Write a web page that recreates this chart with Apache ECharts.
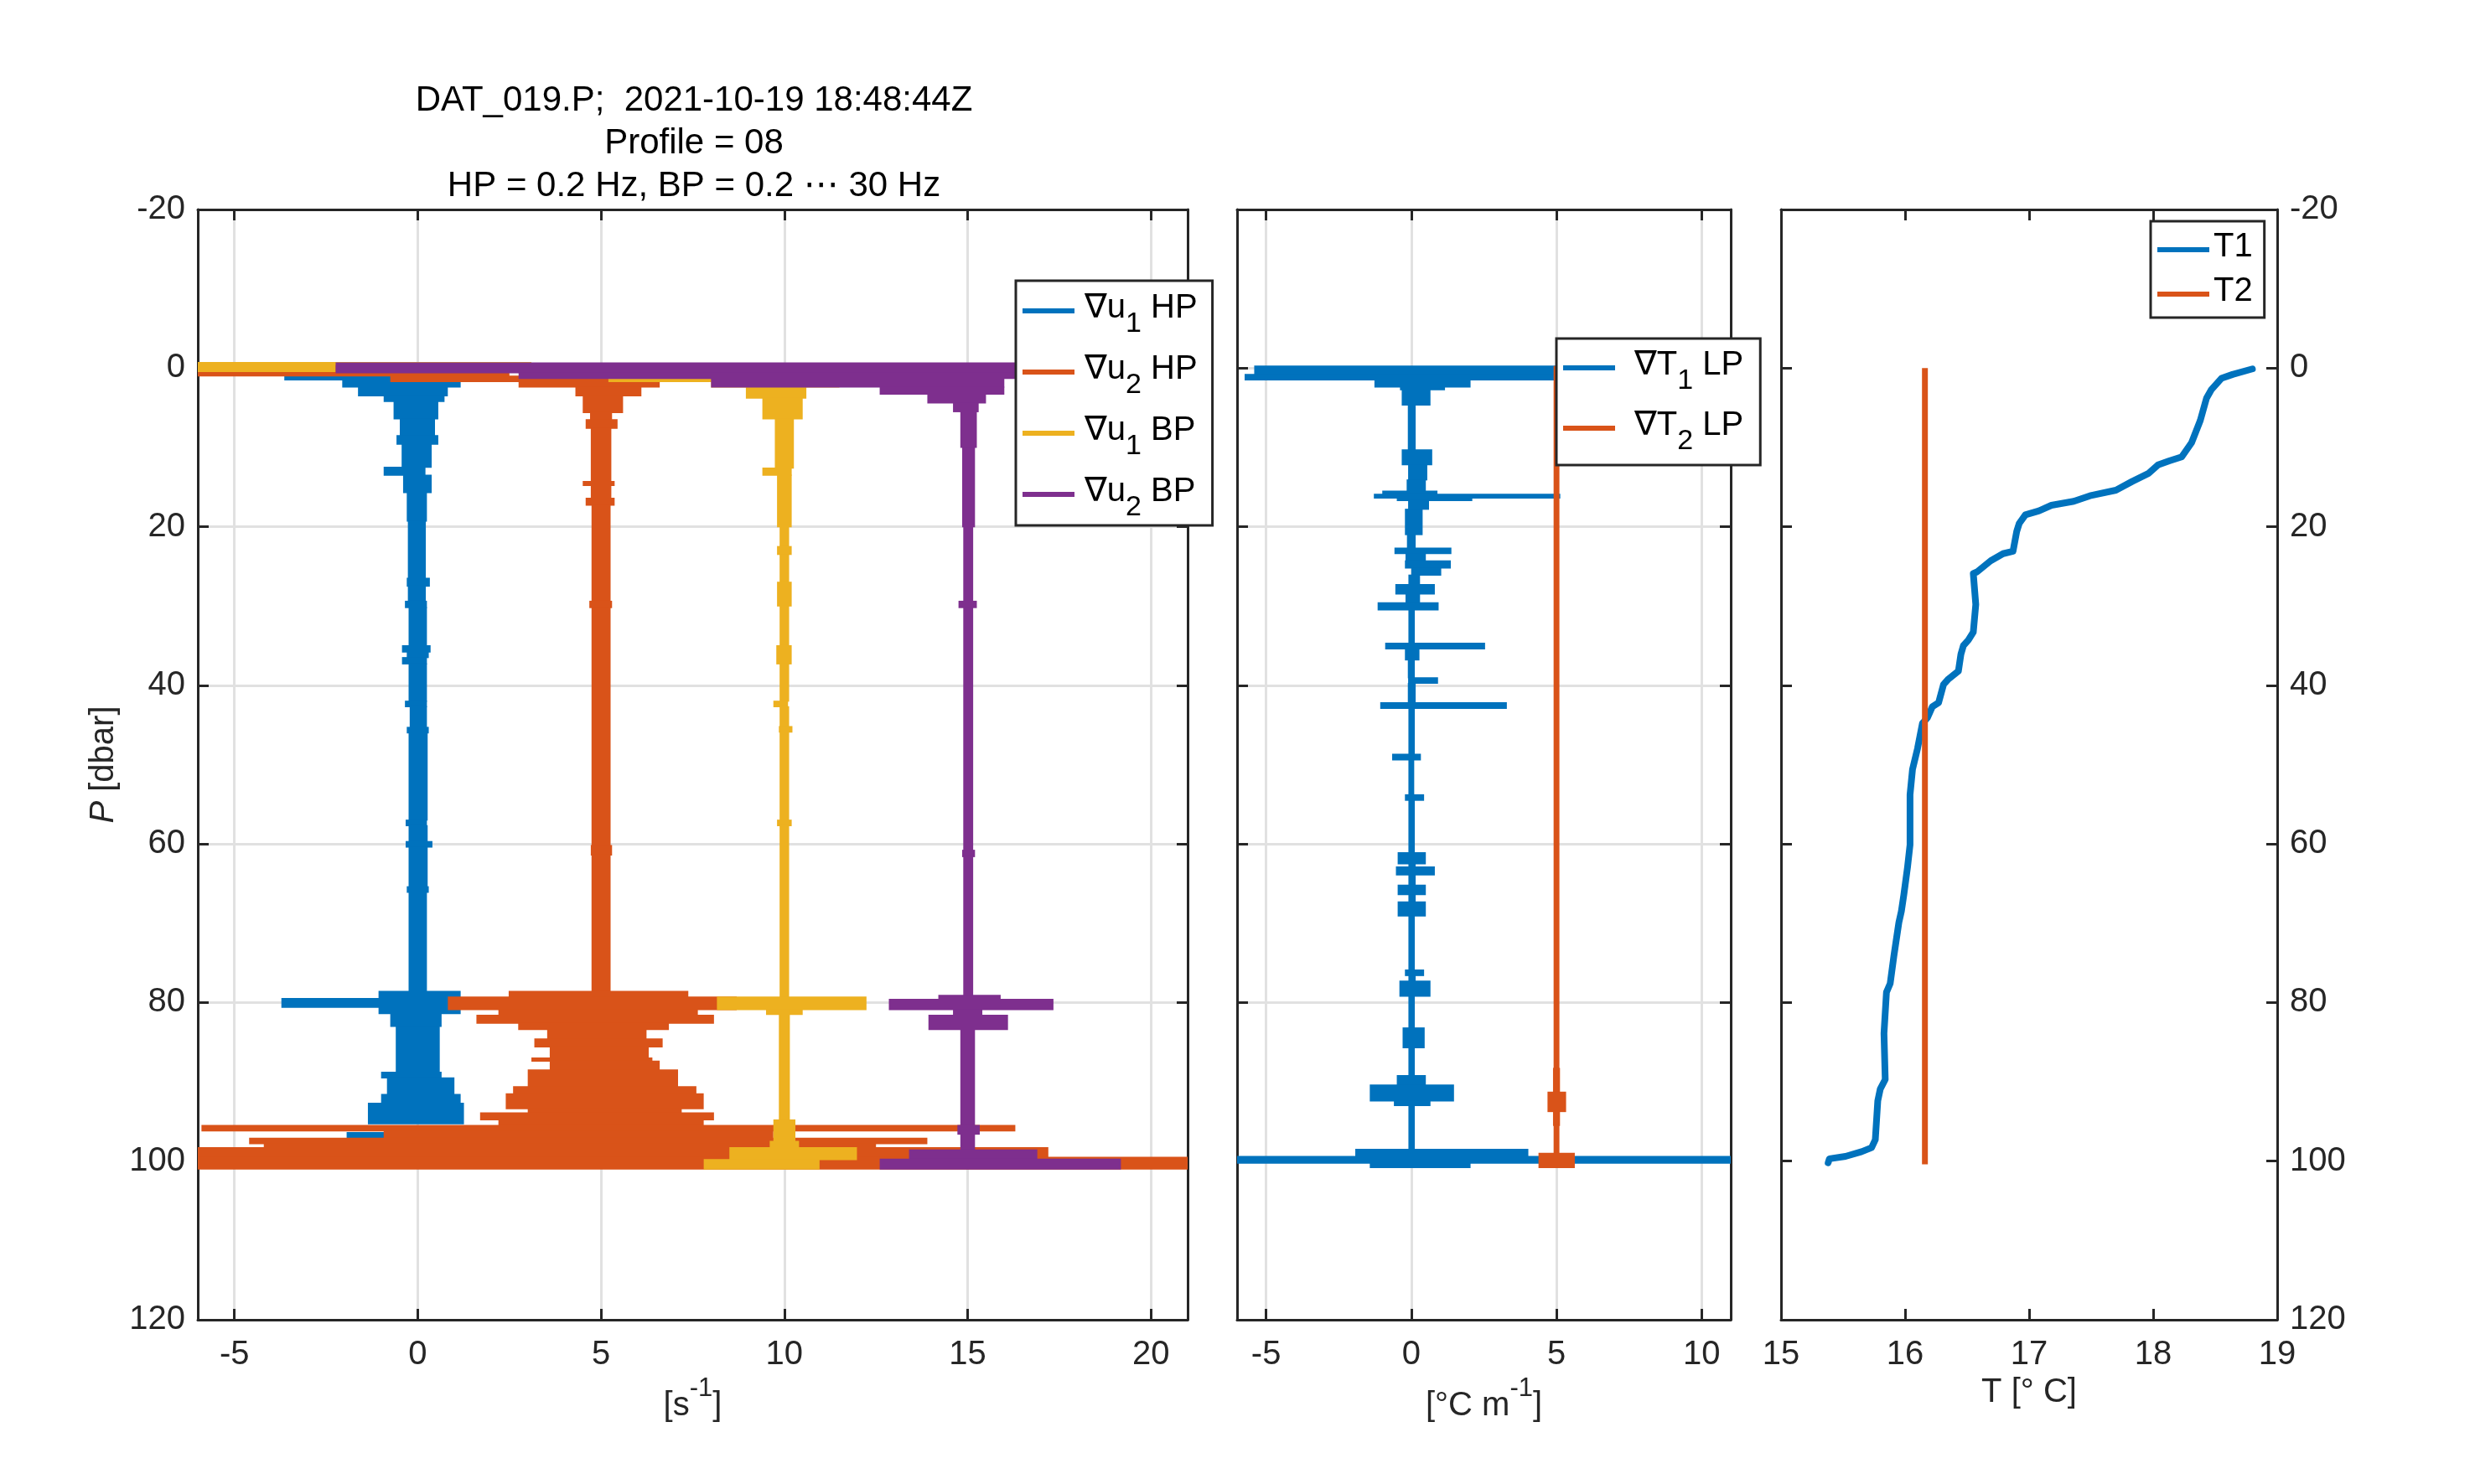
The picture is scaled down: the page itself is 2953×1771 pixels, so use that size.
<!DOCTYPE html>
<html>
<head>
<meta charset="utf-8">
<title>DAT_019.P profile 08</title>
<script src="https://cdn.jsdelivr.net/npm/echarts@6/dist/echarts.min.js"></script>
<style>
  html, body { margin: 0; padding: 0; background: #ffffff; }
  #chart { width: 2953px; height: 1771px; }
</style>
</head>
<body>
<div id="chart"></div>
<script>
// tick values
const pTicks = [-20, 0, 20, 40, 60, 80, 100, 120];
const shearTicks = [-5, 0, 5, 10, 15, 20];
const gradTTicks = [-5, 0, 5, 10];
const tempTicks = [15, 16, 17, 18, 19];

// shear profiles, one row per pressure band: [p top, p bottom, left, right]
const u1HP = [
  [1.1, 1.5, -3.64, 2.75], [1.5, 2.4, -2.06, 1.17], [2.4, 3.5, -1.63, 0.82],
  [3.5, 4.2, -0.93, 0.73], [4.2, 6.4, -0.66, 0.56], [6.4, 8.5, -0.49, 0.47],
  [8.5, 9.6, -0.58, 0.56], [9.6, 12.5, -0.44, 0.38], [12.5, 13.5, -0.93, 0.21],
  [13.5, 15.7, -0.4, 0.38], [15.7, 19.3, -0.3, 0.25], [19.3, 26.5, -0.27, 0.22],
  [26.5, 27.5, -0.3, 0.33], [27.5, 29.4, -0.27, 0.22], [29.4, 30.2, -0.35, 0.25],
  [30.2, 35, -0.25, 0.25], [35, 35.8, -0.43, 0.35], [35.8, 36.5, -0.3, 0.3],
  [36.5, 37.3, -0.43, 0.25], [37.3, 42, -0.25, 0.25], [42, 42.7, -0.35, 0.25],
  [42.7, 45.3, -0.22, 0.25], [45.3, 46, -0.3, 0.3], [46, 57, -0.25, 0.27],
  [57, 57.7, -0.33, 0.25], [57.7, 59.7, -0.25, 0.27], [59.7, 60.4, -0.33, 0.4],
  [60.4, 65.4, -0.25, 0.27], [65.4, 66.1, -0.3, 0.3], [66.1, 78.6, -0.25, 0.25],
  [78.6, 79.5, -1.07, 1.17], [79.5, 80.6, -3.72, 1.6], [80.6, 81.4, -1.07, 1.17],
  [81.4, 83.0, -0.75, 0.65], [83.0, 88.8, -0.6, 0.6], [88.8, 89.5, -1.0, 0.65],
  [89.5, 91.6, -0.84, 1.0], [91.6, 92.7, -1.0, 1.17], [92.7, 95.3, -1.36, 1.26],
  [96.4, 97.0, -1.94, -0.9]
];
const u2HP = [
  [-0.7, 1.0, -6, 2.5], [1.0, 1.7, -0.75, 6.07], [1.7, 2.4, 2.75, 6.6],
  [2.4, 3.5, 4.3, 6.1], [3.5, 5.6, 4.5, 5.6], [5.6, 6.5, 4.7, 5.3],
  [6.5, 7.6, 4.58, 5.45], [7.6, 14.3, 4.72, 5.28], [14.3, 14.8, 4.5, 5.37],
  [14.8, 16.4, 4.72, 5.28], [16.4, 17.3, 4.58, 5.37], [17.3, 29.4, 4.74, 5.26],
  [29.4, 30.2, 4.68, 5.3], [30.2, 60.2, 4.74, 5.26], [60.2, 61.4, 4.72, 5.3],
  [61.4, 78.6, 4.74, 5.26], [78.6, 79.3, 2.48, 7.38], [79.3, 80.9, 0.82, 8.7],
  [80.9, 81.6, 2.2, 7.64], [81.6, 82.6, 1.6, 8.08], [82.6, 83.4, 2.74, 6.85],
  [83.4, 84.6, 3.53, 6.24], [84.6, 85.6, 3.18, 6.68], [85.6, 87.0, 3.6, 6.3],
  [87.0, 87.4, 3.1, 6.4], [87.4, 88.5, 3.6, 6.6], [88.5, 90.6, 3.0, 7.1],
  [90.6, 91.5, 2.6, 7.6], [91.5, 93.4, 2.4, 7.8], [93.4, 93.9, 3.0, 7.2],
  [93.9, 94.8, 1.7, 8.08], [94.8, 95.5, 2.2, 7.8], [95.5, 96.2, -5.9, 16.3],
  [96.2, 97.1, -0.93, 9.7], [97.1, 97.8, -4.6, 13.9], [97.8, 98.3, -4.2, 12.5],
  [98.3, 99.5, -6, 17.2], [99.5, 101, -6, 21]
];
const u1BP = [
  [-0.7, -0.45, -6, 3.1], [-0.45, 0.43, -6, -2.24], [1.0, 1.7, 5.2, 12.6],
  [1.7, 2.4, 8.0, 11.5], [2.4, 3.8, 8.95, 10.6], [3.8, 6.4, 9.4, 10.5],
  [6.4, 12.6, 9.74, 10.26], [12.6, 13.5, 9.4, 10.2], [13.5, 20, 9.8, 10.2],
  [20, 22.5, 9.87, 10.13], [22.5, 23.5, 9.8, 10.2], [23.5, 27, 9.87, 10.13],
  [27, 30, 9.8, 10.2], [30, 35, 9.87, 10.13], [35, 37.3, 9.78, 10.2],
  [37.3, 42, 9.87, 10.13], [42, 42.7, 9.7, 10.1], [42.7, 45.2, 9.87, 10.13],
  [45.2, 45.9, 9.85, 10.22], [45.9, 57, 9.87, 10.13], [57, 57.7, 9.8, 10.2],
  [57.7, 79.3, 9.87, 10.13], [79.3, 80.9, 8.16, 12.24], [80.9, 81.5, 9.5, 10.5],
  [81.5, 94.8, 9.85, 10.15], [94.8, 97.5, 9.7, 10.3], [97.5, 98.3, 9.6, 10.4],
  [98.3, 99.8, 8.5, 11.98], [99.8, 101, 7.8, 10.96]
];
const u2BP = [
  [-0.65, 0.6, -2.24, 17.5], [0.6, 1.3, 2.75, 17.0], [1.3, 2.4, 8.0, 16.0],
  [2.4, 3.3, 12.6, 16.0], [3.3, 4.4, 13.9, 15.5], [4.4, 5.5, 14.6, 15.3],
  [5.5, 10, 14.8, 15.25], [10, 20, 14.85, 15.2], [20, 29.4, 14.88, 15.15],
  [29.4, 30.2, 14.75, 15.25], [30.2, 60.8, 14.88, 15.15], [60.8, 61.6, 14.85, 15.2],
  [61.6, 79.1, 14.88, 15.15], [79.1, 79.6, 14.2, 15.9], [79.6, 80.9, 12.85, 17.34],
  [80.9, 81.6, 14.6, 15.4], [81.6, 83.4, 13.93, 16.1], [83.4, 95.5, 14.8, 15.2],
  [95.5, 96.6, 14.72, 15.33], [96.6, 98.6, 14.8, 15.2], [98.6, 99.75, 13.4, 16.9],
  [99.75, 101, 12.6, 19.18]
];

// temperature gradient profiles, same row layout
const dT1 = [
  [-0.25, 0.8, -5.41, 6], [0.8, 1.5, -5.74, 6], [1.5, 2.4, -1.27, 2.04],
  [2.4, 2.74, -0.39, 1.16], [2.74, 4.67, -0.33, 0.66], [4.67, 10.3, -0.12, 0.15],
  [10.3, 12.2, -0.33, 0.72], [12.2, 14.1, -0.11, 0.55], [14.1, 15.5, -0.16, 0.5],
  [15.5, 15.9, -1.0, 0.9], [15.9, 16.4, -1.29, 5.13], [16.4, 16.7, -0.5, 2.1],
  [16.7, 17.8, -0.11, 0.61], [17.8, 21, -0.22, 0.39], [21, 22.7, -0.15, 0.15],
  [22.7, 23.4, -0.58, 1.38], [23.4, 24.3, -0.2, 0.5], [24.3, 25.2, -0.22, 1.36],
  [25.2, 26.1, 0, 1.03], [26.1, 27.3, -0.1, 0.3], [27.3, 28.5, -0.55, 0.81],
  [28.5, 29.6, -0.2, 0.3], [29.6, 30.5, -1.16, 0.94], [30.5, 34.7, -0.1, 0.12],
  [34.7, 35.4, -0.9, 2.54], [35.4, 36.8, -0.22, 0.28], [36.8, 39.05, -0.12, 0.12],
  [39.05, 39.75, -0.11, 0.92], [39.75, 42.2, -0.12, 0.15], [42.2, 42.9, -1.07, 3.29],
  [42.9, 48.7, -0.1, 0.12], [48.7, 49.4, -0.66, 0.33], [49.4, 53.8, -0.1, 0.1],
  [53.8, 54.5, -0.22, 0.44], [54.5, 61.1, -0.1, 0.12], [61.1, 62.5, -0.47, 0.5],
  [62.5, 62.9, -0.1, 0.15], [62.9, 63.9, -0.53, 0.81], [63.9, 65.2, -0.1, 0.15],
  [65.2, 66.4, -0.47, 0.5], [66.4, 67.3, -0.1, 0.15], [67.3, 69.1, -0.47, 0.5],
  [69.1, 75.9, -0.1, 0.12], [75.9, 76.6, -0.22, 0.44], [76.6, 77.3, -0.1, 0.15],
  [77.3, 79.2, -0.41, 0.66], [79.2, 83.2, -0.1, 0.12], [83.2, 85.7, -0.3, 0.46],
  [85.7, 89.2, -0.1, 0.12], [89.2, 90.4, -0.5, 0.5], [90.4, 92.4, -1.43, 1.47],
  [92.4, 93.0, -0.6, 0.66], [93.0, 98.5, -0.1, 0.12], [98.5, 99.4, -1.93, 4.03],
  [99.4, 100.25, -6, 11], [100.25, 100.8, -1.43, 2.04]
];
const dT2 = [
  [-0.2, 88.3, 4.9, 5.1], [88.3, 91.3, 4.88, 5.12], [91.3, 93.75, 4.69, 5.33],
  [93.75, 95.5, 4.88, 5.12], [95.5, 99.0, 4.9, 5.1], [99.0, 100.8, 4.38, 5.63]
];

// temperature profiles
const t1Pres = [0.1, 0.8, 1.3, 2.7, 3.8, 6.6, 9.4, 11.2, 11.7, 12.2, 13.3, 14.3, 15.4, 16.1, 16.8,
  17.3, 18.0, 18.5, 19.6, 20.6, 23.1, 23.4, 24.3, 25.7, 25.9, 29.8, 33.3, 34.3, 35.0, 36.1,
  38.2, 39.2, 39.9, 42.2, 42.7, 44.1, 44.8, 48.0, 50.6, 53.8, 60.1, 62.9, 66.4, 68.5, 69.9,
  74.1, 77.6, 78.7, 83.9, 89.7, 90.9, 92.4, 97.3, 98.3, 98.8, 99.4, 99.7, 100.2];
const t1Temp = [18.80, 18.64, 18.55, 18.47, 18.43, 18.38, 18.31, 18.23, 18.13, 18.04, 17.96, 17.83, 17.70, 17.49, 17.36,
  17.18, 17.08, 16.97, 16.92, 16.90, 16.87, 16.79, 16.69, 16.58, 16.55, 16.57, 16.55, 16.51, 16.47, 16.45,
  16.43, 16.35, 16.31, 16.27, 16.22, 16.18, 16.14, 16.10, 16.06, 16.04, 16.04, 16.02, 15.99, 15.97, 15.95,
  15.91, 15.88, 15.85, 15.83, 15.84, 15.80, 15.78, 15.76, 15.73, 15.65, 15.52, 15.39, 15.38];
const t2Pres = [0, 100.4];
const t2Temp = [16.16, 16.16];

const FONT = '"Liberation Sans", Arial, Helvetica, "DejaVu Sans", sans-serif';
const INK = '#262626';
const GRIDLINE = '#e1e1e1';
const C_BLUE = '#0072BD';
const C_ORANGE = '#D95319';
const C_YELLOW = '#EDB120';
const C_PURPLE = '#7E2F8E';

const grids = [
  { left: 236, top: 250, width: 1181, height: 1325 },
  { left: 1476, top: 250, width: 589, height: 1325 },
  { left: 2125, top: 250, width: 592, height: 1325 }
];

function renderBand(params, api) {
  const a = api.coord([api.value(2), api.value(0)]);
  const b = api.coord([api.value(3), api.value(1)]);
  const rect = echarts.graphic.clipRectByRect(
    { x: a[0], y: a[1] - 0.6, width: b[0] - a[0], height: b[1] - a[1] + 1.2 },
    params.coordSys
  );
  if (!rect) return null;
  return { type: 'rect', shape: rect, style: { fill: api.visual('color') } };
}

function bandSeries(name, rows, color, axis) {
  return {
    type: 'custom',
    name: name,
    xAxisIndex: axis,
    yAxisIndex: axis,
    data: rows,
    encode: { x: [2, 3], y: [0, 1] },
    itemStyle: { color: color },
    renderItem: renderBand,
    silent: true,
    animation: false
  };
}

function xAxisPair(gridIndex, min, max, ticks, opts) {
  const line = { show: true, onZero: false, lineStyle: { color: INK, width: 3 } };
  const tick = { show: true, inside: true, length: 13, customValues: ticks, lineStyle: { color: INK, width: 3 } };
  return [
    {
      type: 'value', gridIndex: gridIndex, position: 'bottom', min: min, max: max,
      axisLine: line, axisTick: tick,
      axisLabel: { show: true, customValues: ticks, margin: 22, fontSize: 40, color: INK, fontFamily: FONT },
      splitLine: opts.grid
        ? { show: true, customValues: ticks, lineStyle: { color: GRIDLINE, width: 3 } }
        : { show: false },
      name: opts.name, nameLocation: 'middle', nameGap: opts.nameGap,
      nameTextStyle: opts.nameStyle
    },
    {
      type: 'value', gridIndex: gridIndex, position: 'top', min: min, max: max,
      axisLine: line, axisTick: tick, axisLabel: { show: false }, splitLine: { show: false }
    }
  ];
}

function yAxisPair(gridIndex, labelSide, gridLines, name) {
  const line = { show: true, onZero: false, lineStyle: { color: INK, width: 3 } };
  const tick = { show: true, inside: true, length: 13, lineStyle: { color: INK, width: 3 } };
  const base = { type: 'value', gridIndex: gridIndex, inverse: true, min: pTicks[0], max: pTicks[pTicks.length - 1], interval: 20, axisLine: line, axisTick: tick };
  const label = { show: true, margin: 15, fontSize: 40, color: INK, fontFamily: FONT };
  return [
    Object.assign({}, base, {
      position: 'left',
      axisLabel: labelSide === 'left' ? label : { show: false },
      splitLine: gridLines ? { show: true, lineStyle: { color: GRIDLINE, width: 3 } } : { show: false },
      name: name || '', nameLocation: 'middle', nameGap: 92,
      nameTextStyle: {
        fontSize: 40, color: INK, fontFamily: FONT,
        rich: { i: { fontSize: 40, fontStyle: 'italic', color: INK, fontFamily: FONT } }
      }
    }),
    Object.assign({}, base, {
      position: 'right',
      axisLabel: labelSide === 'right' ? label : { show: false },
      splitLine: { show: false }
    })
  ];
}

const unitRich = {
  b: { fontSize: 40, color: INK, fontFamily: FONT, lineHeight: 46, padding: [16, 0, 0, 0], verticalAlign: 'top' },
  sup: { fontSize: 31, color: INK, fontFamily: FONT, lineHeight: 36, verticalAlign: 'top' }
};
function unitStyle() {
  return { fontSize: 40, color: INK, fontFamily: FONT, rich: unitRich };
}

const legendRich = {
  f: { fontSize: 40, color: '#000', fontFamily: FONT, lineHeight: 46, verticalAlign: 'top', padding: [0, 0, 0, 7] },
  n: { fontSize: 40, color: '#000', fontFamily: FONT, lineHeight: 46, verticalAlign: 'top' },
  s: { fontSize: 34, color: '#000', fontFamily: FONT, lineHeight: 46, verticalAlign: 'top', padding: [22, 0, 0, 0] }
};
const legendText = {
  'u1HP': '{f|∇u}{s|1}{n| HP}',
  'u2HP': '{f|∇u}{s|2}{n| HP}',
  'u1BP': '{f|∇u}{s|1}{n| BP}',
  'u2BP': '{f|∇u}{s|2}{n| BP}',
  'T1LP': '{f| ∇T}{s|1}{n| LP}',
  'T2LP': '{f| ∇T}{s|2}{n| LP}',
  'T1': '{n|T1}',
  'T2': '{n|T2}'
};
function legendBox(names, left, top, itemGap, padding) {
  return {
    data: names, left: left, top: top, orient: 'vertical',
    icon: 'rect', itemWidth: 62, itemHeight: 6, itemGap: itemGap,
    padding: padding, borderColor: INK, borderWidth: 3, backgroundColor: '#ffffff',
    selectedMode: false,
    formatter: (name) => legendText[name],
    textStyle: { fontSize: 40, color: '#000', fontFamily: FONT, rich: legendRich }
  };
}

const chart = echarts.init(document.getElementById('chart'), null, { renderer: 'canvas' });

const xAxes = [].concat(
  xAxisPair(0, -6, 21, shearTicks, { grid: true, name: '{b|[s}{sup|-1}{b|]}', nameGap: 58, nameStyle: unitStyle() }),
  xAxisPair(1, -6, 11, gradTTicks, { grid: true, name: '{b|[°C m}{sup|-1}{b|]}', nameGap: 58, nameStyle: unitStyle() }),
  xAxisPair(2, 15, 19, tempTicks, { grid: false, name: 'T [° C]', nameGap: 66, nameStyle: { fontSize: 40, color: INK, fontFamily: FONT } })
);
const yAxes = [].concat(
  yAxisPair(0, 'left', true, '{i|P} [dbar]'),
  yAxisPair(1, 'none', true),
  yAxisPair(2, 'right', false)
);

chart.setOption({
  backgroundColor: '#ffffff',
  animation: false,
  title: {
    text: 'DAT_019.P;  2021-10-19 18:48:44Z\nProfile = 08\nHP = 0.2 Hz, BP = 0.2 ⋯ 30 Hz',
    left: 823, top: 90, textAlign: 'center',
    textStyle: { fontSize: 42, fontWeight: 'normal', color: '#000', fontFamily: FONT, lineHeight: 51 }
  },
  grid: grids,
  xAxis: xAxes,
  yAxis: yAxes,
  legend: [
    legendBox(['u1HP', 'u2HP', 'u1BP', 'u2BP'], 1212, 335, 17, [13, 18, 4, 8]),
    legendBox(['T1LP', 'T2LP'], 1857, 404, 16, [12, 20, 11, 8]),
    legendBox(['T1', 'T2'], 2566, 264, 13, [11, 14, 11, 8])
  ],
  series: [
    bandSeries('u1HP', u1HP, C_BLUE, 0),
    bandSeries('u2HP', u2HP, C_ORANGE, 0),
    bandSeries('u1BP', u1BP, C_YELLOW, 0),
    bandSeries('u2BP', u2BP, C_PURPLE, 0),
    bandSeries('T1LP', dT1, C_BLUE, 2),
    bandSeries('T2LP', dT2, C_ORANGE, 2),
    {
      type: 'line', name: 'T1', xAxisIndex: 4, yAxisIndex: 4,
      data: t1Pres.map((p, i) => [t1Temp[i], p]),
      showSymbol: false, symbol: 'none', color: C_BLUE,
      lineStyle: { color: C_BLUE, width: 8, join: 'round', cap: 'round' },
      silent: true
    },
    {
      type: 'line', name: 'T2', xAxisIndex: 4, yAxisIndex: 4,
      data: t2Pres.map((p, i) => [t2Temp[i], p]),
      showSymbol: false, symbol: 'none', color: C_ORANGE,
      lineStyle: { color: C_ORANGE, width: 7 },
      silent: true
    }
  ]
});
</script>
</body>
</html>
